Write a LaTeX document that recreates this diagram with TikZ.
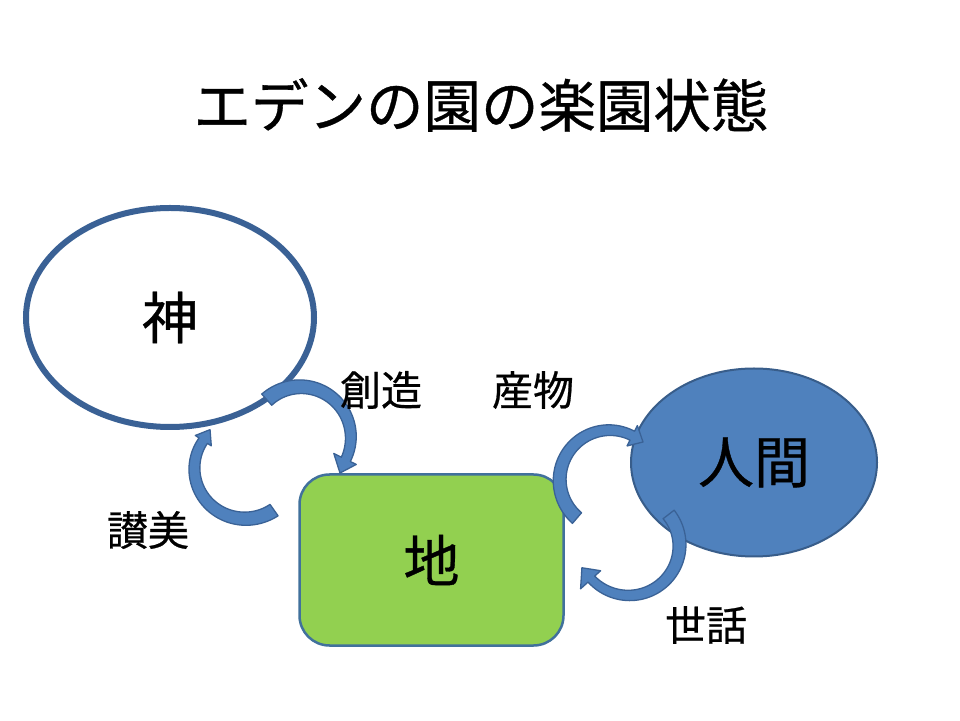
\documentclass[tikz,border=0pt]{standalone}
\usepackage{fontspec}
\newfontfamily\jp[FakeBold=0.6]{Noto Sans CJK JP}
\usetikzlibrary{shapes.geometric}
\definecolor{godline}{HTML}{3A6195}
\definecolor{earthfill}{HTML}{92D050}
\definecolor{earthline}{HTML}{41719C}
\definecolor{manfill}{HTML}{4F81BD}
\definecolor{manline}{HTML}{385D8A}
\definecolor{arrfill}{HTML}{4F81BD}
\definecolor{arrline}{HTML}{3A6296}
\pgfkeys{/carr/.cd,
  cx/.store in=\cX, cy/.store in=\cY,
  rs/.store in=\cRs, re/.store in=\cRe,
  as/.store in=\cAs, ae/.store in=\cAe,
  wt/.store in=\cWt, wh/.store in=\cWh,
  ta/.store in=\cTa, tr/.store in=\cTr,
  bo/.store in=\cBo, bi/.store in=\cBi}
\newcommand\circarrow[1]{%
  \pgfkeys{/carr/.cd,#1}%
  \pgfmathsetmacro\cYY{720-(\cY)}%
  \filldraw[arrsty,
    declare function={
      ff(\t)=(\t-(\cAs))/((\cAe)-(\cAs));
      ro(\t)=\cRs+(\cRe-\cRs)*ff(\t)+(\cWt+(\cWh-\cWt)*ff(\t))/2;
      ri(\t)=\cRs+(\cRe-\cRs)*ff(\t)-(\cWt+(\cWh-\cWt)*ff(\t))/2;
    }]
    plot[domain=\cAs:\cAe, samples=60] ({\cX+ro(\x)*cos(\x)},{\cYY+ro(\x)*sin(\x)})
    -- ({\cX+(\cRe+\cWh/2+\cBo)*cos(\cAe)},{\cYY+(\cRe+\cWh/2+\cBo)*sin(\cAe)})
    -- ({\cX+\cTr*cos(\cTa)},{\cYY+\cTr*sin(\cTa)})
    -- ({\cX+(\cRe-\cWh/2-\cBi)*cos(\cAe)},{\cYY+(\cRe-\cWh/2-\cBi)*sin(\cAe)})
    -- plot[domain=\cAe:\cAs, samples=60] ({\cX+ri(\x)*cos(\x)},{\cYY+ri(\x)*sin(\x)})
    -- cycle;}
\tikzset{
  arrsty/.style={fill=arrfill, draw=arrline, line width=1.3pt, line join=round},
  bigtext/.style={font=\jp\fontsize{56}{62}\selectfont, inner sep=0pt},
  labtext/.style={font=\jp\fontsize{41}{46}\selectfont, inner sep=0pt},
}
\begin{document}
\begin{tikzpicture}[x=1pt,y=1pt]
\useasboundingbox[fill=white] (0,0) rectangle (960,720);
% title
\node[font=\jp\fontsize{57.5}{62}\selectfont, inner sep=0pt] (title) at (481,615) {エデンの園の楽園状態};
% shapes
\node[ellipse, draw=godline, line width=6pt, fill=white, minimum width=288pt, minimum height=219pt, inner sep=0pt, bigtext] (god) at (170,402.5) {神};
\node[rectangle, rounded corners=30pt, draw=earthline, line width=2.5pt, fill=earthfill, minimum width=264pt, minimum height=171pt, inner sep=0pt, bigtext] (earth) at (431.5,160) {地};
\node[ellipse, draw=manline, line width=2pt, fill=manfill, minimum width=246pt, minimum height=188pt, inner sep=0pt, bigtext] (man) at (754,257.5) {人間};
% circular arrows
\circarrow{cx=300, cy=437, as=131.7, ae=-26, rs=50, re=51, wt=15, wh=10, ta=-42, tr=53.8, bo=6.6, bi=8.4}
\circarrow{cx=243.5, cy=466.8, as=-54.8, ae=-213, rs=53, re=48, wt=14, wh=10, ta=-228, tr=50, bo=4.5, bi=4.6}
\circarrow{cx=609.8, cy=479.8, as=229.4, ae=63, rs=50.4, re=49.5, wt=14, wh=10, ta=48.7, tr=50.3, bo=6.3, bi=6.5}
\circarrow{cx=630, cy=544.3, as=37.7, ae=-138, rs=48.8, re=52, wt=14, wh=9, ta=-154, tr=53.5, bo=10, bi=8}
% labels
\node[labtext] (create) at (381,330) {創造};
\node[labtext] (produce) at (533,330) {産物};
\node[labtext] (praise) at (148,190) {讃美};
\node[labtext] (care) at (706,95) {世話};
\end{tikzpicture}
\end{document}
